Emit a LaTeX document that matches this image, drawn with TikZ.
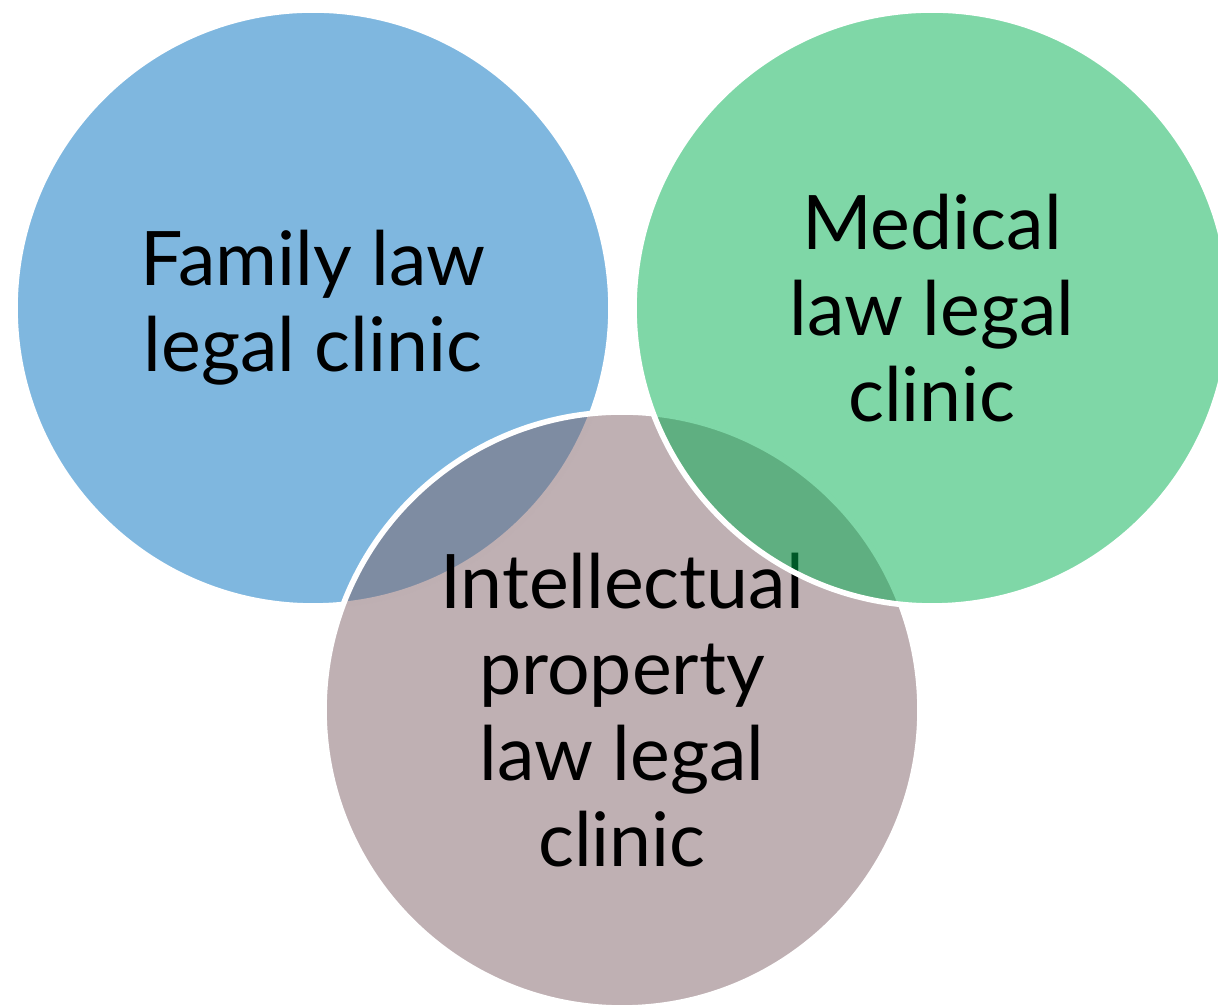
\documentclass[tikz,border=0pt]{standalone}
\usepackage{fontspec}
\setmainfont{Lato}
\definecolor{famblue}{HTML}{0070C0}
\definecolor{medgreen}{HTML}{00B050}
\definecolor{ipmauve}{HTML}{7F6167}

\begin{document}
\begin{tikzpicture}[
  font=\fontsize{21.4}{24.4}\selectfont,
  clinic/.style={circle, minimum size=5.96cm, inner sep=0pt, draw=white, line width=1.6pt,
    fill opacity=0.5, text opacity=1, text=black, align=center},
]
\useasboundingbox (0,0) rectangle (12.18,10.05);

% Family law clinic
\node[clinic, fill=famblue] (family) at (3.13,6.97) {Family law\\legal clinic};

% IP clinic goes under the medical one
\node[clinic, fill=ipmauve] (ip) at (6.22,2.95) {Intellectual\\property\\law legal\\clinic};

% Medical law clinic
\node[clinic, fill=medgreen] (medical) at (9.32,6.97) {Medical\\law legal\\clinic};

\end{tikzpicture}
\end{document}
